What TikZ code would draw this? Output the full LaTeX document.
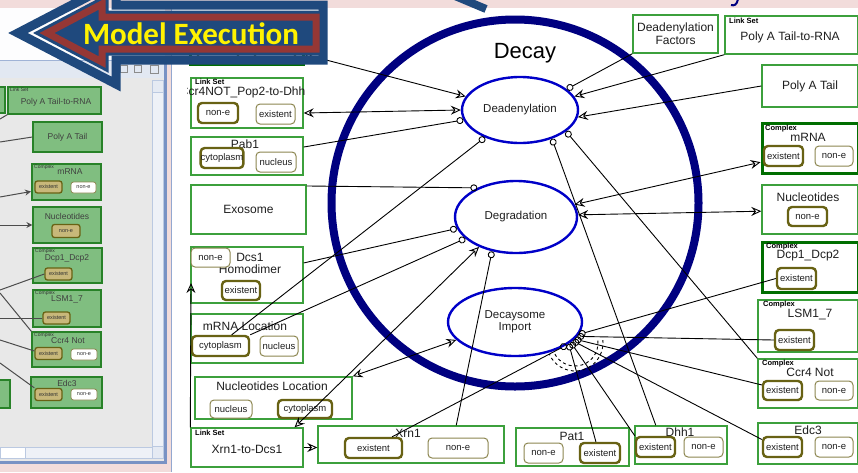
\documentclass[tikz,border=0pt]{standalone}
\usepackage{fontspec}
\setmainfont{Liberation Sans}
\newfontfamily\calfont{Carlito}
\usetikzlibrary{shapes.geometric,arrows.meta}

\newlength{\du}
\setlength{\du}{1pt}

\definecolor{slidepink}{RGB}{242,220,219}
\definecolor{arrowblue}{RGB}{31,73,125}
\definecolor{arrowred}{RGB}{149,55,53}
\definecolor{ringnavy}{RGB}{0,0,128}
\definecolor{ellblue}{RGB}{0,0,200}
\definecolor{boxgreen}{RGB}{60,160,60}
\definecolor{boxdark}{RGB}{0,110,0}
\definecolor{pillolive}{RGB}{104,98,20}
\definecolor{pillpale}{RGB}{140,134,80}
\definecolor{txtgray}{RGB}{30,30,30}
\definecolor{panelgray}{RGB}{232,232,232}
\definecolor{panelgreen}{RGB}{128,190,128}
\definecolor{paneldark}{RGB}{40,130,40}
\definecolor{paneltan}{RGB}{200,184,122}
\definecolor{panelbar}{RGB}{226,232,242}
\definecolor{panelblue}{RGB}{120,146,196}

\tikzset{
  opn/.tip={Stealth[open,length=10pt,width=9pt,inset=3.5pt]},
  knob/.tip={Circle[open,length=7pt]},
  mbox/.style={draw=boxgreen, line width=1.4\du, fill=white, inner sep=0pt},
  cbox/.style={mbox, draw=boxdark, line width=3\du},
  ttl/.style={inner sep=0pt, text=txtgray, align=center, font=\fontsize{12}{14}\selectfont},
  tag/.style={inner sep=0pt, anchor=west, font=\fontsize{7.5}{8}\selectfont\bfseries},
  onpill/.style={draw=pillolive, line width=2.4\du, rounded corners=4\du, fill=white, inner sep=0pt, text=txtgray, font=\fontsize{9.5}{11}\selectfont},
  offpill/.style={onpill, draw=pillpale, line width=1\du},
  proc/.style={ellipse, draw=ellblue, line width=2.4\du, fill=white, inner sep=0pt, text=txtgray, align=center, font=\fontsize{11.5}{12}\selectfont},
  link/.style={draw=black, line width=0.9\du},
  pbox/.style={draw=paneldark, line width=1.2\du, fill=panelgreen, inner sep=0pt},
  pttl/.style={inner sep=0pt, text=black!75, font=\fontsize{8.5}{10}\selectfont},
  ptag/.style={inner sep=0pt, anchor=west, text=black!80, font=\fontsize{5}{6}\selectfont},
  ppill/.style={draw=pillolive, line width=1.3\du, rounded corners=2.5\du, fill=paneltan, inner sep=0pt, text=black!80, font=\fontsize{5.5}{6}\selectfont},
  pwpill/.style={ppill, fill=white, draw=pillpale, line width=0.8\du},
  plink/.style={draw=black!70, line width=1\du},
}

\begin{document}
\begin{tikzpicture}
\pgftransformyscale{-1.000000}
\useasboundingbox (0\du,0\du) rectangle (858\du,472\du);
% slide, left window and canvas
\fill[slidepink] (0\du,0\du) rectangle (858\du,472\du);
\fill[panelgray] (0\du,8\du) rectangle (165\du,462\du);
\fill[white!92!panelbar] (0\du,8\du) rectangle (165\du,60\du);
\fill[panelbar] (0\du,60\du) rectangle (165\du,78\du);
\draw[panelblue!70, line width=1\du] (0\du,60\du) -- (165\du,60\du);
\draw[black!45, line width=0.8\du] (120\du,65\du) rectangle (127\du,72\du);
\draw[black!45, line width=0.8\du] (134\du,65\du) rectangle (141\du,72\du);
\draw[black!45, line width=0.8\du] (150\du,65\du) rectangle (158\du,73\du);
\filldraw[fill=panelbar!60, draw=panelblue!50, line width=0.8\du] (152\du,80\du) rectangle (163\du,458\du);
\filldraw[fill=panelbar!90, draw=panelblue!50, line width=0.8\du] (152\du,80\du) rectangle (163\du,92\du);
\filldraw[fill=panelbar!90, draw=panelblue!50, line width=0.8\du] (152\du,446\du) rectangle (163\du,458\du);
\filldraw[fill=panelbar!60, draw=panelblue!50, line width=0.8\du] (0\du,447\du) rectangle (152\du,458\du);
\filldraw[fill=white, draw=panelblue!50, line width=0.8\du] (0\du,447\du) rectangle (25\du,458\du);
\draw[panelblue, line width=3\du] (165\du,60\du) -- (165\du,462\du) -- (0\du,462\du);
\fill[white] (171\du,8\du) rectangle (858\du,472\du);
\draw[panelblue!80, line width=1\du] (171\du,8\du) -- (171\du,472\du);
\draw[arrowblue, line width=8\du] (455\du,-4\du) -- (486\du,9\du);
\draw[ringnavy, line width=2\du] (738\du,-1\du) .. controls (737\du,5\du) and (734\du,6\du) .. (731\du,5\du);

% left window contents
\node[pbox, minimum width=14\du, minimum height=26\du] (lpA) at (-2\du,100\du) {};
\node[pbox, minimum width=93\du, minimum height=27\du] (lpB) at (54.5\du,100.5\du) {};
\node[ptag] (lpBL) at (10\du,90\du) {Link Set};
\node[pttl] (lpBT) at (56\du,102\du) {Poly A Tail-to-RNA};
\node[pbox, pttl, minimum width=69\du, minimum height=30\du] (lpC) at (67.5\du,137\du) {Poly A Tail};
\node[pbox, line width=2\du, minimum width=69\du, minimum height=36\du] (lpD) at (66.5\du,182\du) {};
\node[ptag] (lpDL) at (34\du,167\du) {Complex};
\node[pttl] (lpDT) at (70\du,172\du) {mRNA};
\node[ppill, minimum width=27\du, minimum height=12\du] (lpDA) at (48.5\du,187\du) {existent};
\node[pwpill, minimum width=25\du, minimum height=11\du] (lpDB) at (83.5\du,187.5\du) {non-e};
\node[pbox, minimum width=68\du, minimum height=36\du] (lpE) at (67\du,225\du) {};
\node[pttl] (lpET) at (67\du,216\du) {Nucleotides};
\node[ppill, minimum width=28\du, minimum height=13\du] (lpEA) at (66\du,231\du) {non-e};
\node[pbox, minimum width=69\du, minimum height=35\du] (lpF) at (67.5\du,265.5\du) {};
\node[ptag] (lpFL) at (35\du,251\du) {Complex};
\node[pttl] (lpFT) at (67\du,258\du) {Dcp1\_Dcp2};
\node[ppill, minimum width=27\du, minimum height=12\du] (lpFA) at (58.5\du,274\du) {existent};
\node[pbox, minimum width=68\du, minimum height=37\du] (lpG) at (67\du,308.5\du) {};
\node[ptag] (lpGL) at (35\du,293\du) {Complex};
\node[pttl] (lpGT) at (67\du,299\du) {LSM1\_7};
\node[ppill, minimum width=27\du, minimum height=12\du] (lpGA) at (56.5\du,318\du) {existent};
\node[pbox, minimum width=69\du, minimum height=35\du] (lpH) at (66.5\du,349.5\du) {};
\node[ptag] (lpHL) at (34\du,335\du) {Complex};
\node[pttl] (lpHT) at (68\du,341\du) {Ccr4 Not};
\node[ppill, minimum width=27\du, minimum height=12\du] (lpHA) at (48.5\du,353.5\du) {existent};
\node[pwpill, minimum width=26\du, minimum height=11\du] (lpHB) at (84\du,354.5\du) {non-e};
\node[pbox, minimum width=71\du, minimum height=31\du] (lpI) at (66.5\du,392.5\du) {};
\node[pttl] (lpIT) at (67\du,383\du) {Edc3};
\node[ppill, minimum width=27\du, minimum height=12\du] (lpIA) at (48.5\du,394.5\du) {existent};
\node[pwpill, minimum width=26\du, minimum height=11\du] (lpIB) at (84\du,394.5\du) {non-e};
\node[pbox, minimum width=16\du, minimum height=28\du] (lpJ) at (2\du,394\du) {};
\coordinate (pinA) at (0\du,119\du);
\coordinate (pinB) at (0\du,142\du);
\coordinate (pinC) at (0\du,197\du);
\coordinate (pinD) at (0\du,225\du);
\coordinate (pinE) at (0\du,290\du);
\coordinate (pinF) at (0\du,293\du);
\coordinate (pinG) at (0\du,318\du);
\coordinate (pinH) at (0\du,340\du);
\coordinate (pinI) at (0\du,363\du);
\draw[plink] (pinA) -- (lpB.south west);
\draw[plink] (pinB) -- (lpC.west);
\draw[plink, -{Stealth[open,length=6pt,width=6pt,inset=2pt]}] (pinC) -- (lpD.195);
\draw[plink, -{Stealth[open,length=6pt,width=6pt,inset=2pt]}] (pinD) -- (lpE.west);
\draw[plink] (pinE) -- (lpFA.west);
\draw[plink] (pinF) -- (lpH.north west);
\draw[plink] (pinG) -- (lpGA.west);
\draw[plink] (pinH) -- (lpHA.170);
\draw[plink] (pinI) -- (lpIA.north west);

% decay compartment
\node[circle, draw=ringnavy, line width=8\du, minimum size=367\du, inner sep=0pt] (decay) at (515\du,203\du) {};
\node[inner sep=0pt, font=\fontsize{22}{24}\selectfont] (decayT) at (525\du,53\du) {Decay};

% boxes on the left of the canvas
\node[cbox, minimum width=113\du, minimum height=44\du] (topbox) at (246.5\du,42\du) {};
\node[onpill, minimum width=40\du, minimum height=20\du] (topboxA) at (218\du,50\du) {};
\node[onpill, minimum width=40\du, minimum height=20\du] (topboxB) at (275\du,50\du) {};

\node[mbox, minimum width=112\du, minimum height=50\du] (ccrlink) at (247\du,103\du) {};
\begin{scope}
\clip (187\du,70\du) rectangle (305\du,100\du);
\node[ttl] (ccrlinkT) at (246\du,92\du) {Ccr4NOT\_Pop2-to-Dhh1};
\end{scope}
\node[tag] (ccrlinkL) at (195\du,82\du) {Link Set};
\node[onpill, minimum width=40\du, minimum height=20\du] (ccrlinkA) at (218\du,113\du) {non-e};
\node[offpill, minimum width=39\du, minimum height=20\du] (ccrlinkB) at (275.5\du,114\du) {existent};

\node[mbox, minimum width=112\du, minimum height=38\du] (pab) at (247\du,156\du) {};
\node[ttl] (pabT) at (245\du,144\du) {Pab1};
\node[onpill, minimum width=40\du, minimum height=20\du] (pabA) at (222\du,158\du) {cytoplasm};
\node[offpill, minimum width=40\du, minimum height=20\du] (pabB) at (276\du,162\du) {nucleus};

\node[mbox, ttl, minimum width=115\du, minimum height=49\du] (exo) at (248.5\du,209.5\du) {Exosome};

\node[mbox, minimum width=112\du, minimum height=56\du] (dcs) at (247\du,275\du) {};
\node[ttl, font=\fontsize{12}{12}\selectfont] (dcsT) at (250\du,263\du) {Dcs1\\Homodimer};
\node[offpill, minimum width=39\du, minimum height=19\du] (dcsA) at (210.5\du,257.5\du) {non-e};
\node[onpill, minimum width=38\du, minimum height=19\du] (dcsB) at (241\du,290.5\du) {existent};
\coordinate (dcsin) at (191\du,283\du);

\node[mbox, minimum width=112\du, minimum height=49\du] (mloc) at (247\du,338.5\du) {};
\node[ttl] (mlocT) at (245\du,326\du) {mRNA Location};
\node[onpill, minimum width=57\du, minimum height=20\du] (mlocA) at (220.5\du,346\du) {cytoplasm};
\node[offpill, minimum width=38\du, minimum height=20\du] (mlocB) at (279\du,346\du) {nucleus};

\node[mbox, minimum width=157\du, minimum height=42\du] (nloc) at (273.5\du,398\du) {};
\node[ttl] (nlocT) at (272\du,386\du) {Nucleotides Location};
\node[offpill, minimum width=42\du, minimum height=18\du] (nlocA) at (231\du,409\du) {nucleus};
\node[onpill, minimum width=54\du, minimum height=18\du] (nlocB) at (305\du,409\du) {cytoplasm};

\node[mbox, minimum width=112\du, minimum height=39\du] (xdlink) at (247\du,447.5\du) {};
\node[tag] (xdlinkL) at (195\du,433\du) {Link Set};
\node[ttl] (xdlinkT) at (247\du,449\du) {Xrn1-to-Dcs1};

% boxes along the bottom
\node[mbox, minimum width=186\du, minimum height=37\du] (xrn) at (411\du,444.5\du) {};
\node[ttl] (xrnT) at (408\du,433\du) {Xrn1};
\node[onpill, minimum width=57\du, minimum height=20\du] (xrnA) at (373.5\du,448\du) {existent};
\node[offpill, minimum width=60\du, minimum height=20\du] (xrnB) at (458\du,448\du) {non-e};

\node[mbox, minimum width=113\du, minimum height=38\du] (pat) at (572.5\du,447\du) {};
\node[ttl] (patT) at (572\du,436\du) {Pat1};
\node[offpill, minimum width=39\du, minimum height=20\du] (patA) at (543.5\du,453\du) {non-e};
\node[onpill, minimum width=40\du, minimum height=20\du] (patB) at (600\du,453\du) {existent};

\node[mbox, minimum width=92\du, minimum height=38\du] (dhh) at (681\du,445\du) {};
\node[ttl] (dhhT) at (680\du,432\du) {Dhh1};
\node[onpill, minimum width=39\du, minimum height=20\du] (dhhA) at (655.5\du,447\du) {existent};
\node[offpill, minimum width=39\du, minimum height=20\du] (dhhB) at (703.5\du,447\du) {non-e};

% boxes on the right
\node[mbox, minimum width=100\du, minimum height=41\du] (edc) at (808\du,443.5\du) {};
\node[ttl] (edcT) at (808\du,430\du) {Edc3};
\node[onpill, minimum width=39\du, minimum height=20\du] (edcA) at (782.5\du,447\du) {existent};
\node[offpill, minimum width=38\du, minimum height=20\du] (edcB) at (834\du,447\du) {non-e};

\node[mbox, minimum width=100\du, minimum height=49\du] (ccr) at (808\du,383.5\du) {};
\node[tag] (ccrL) at (762\du,364\du) {Complex};
\node[ttl] (ccrT) at (810\du,372\du) {Ccr4 Not};
\node[onpill, minimum width=39\du, minimum height=19\du] (ccrA) at (782.5\du,390.5\du) {existent};
\node[offpill, minimum width=38\du, minimum height=19\du] (ccrB) at (834\du,390.5\du) {non-e};

\node[mbox, minimum width=100\du, minimum height=52\du] (lsm) at (808\du,326\du) {};
\node[tag] (lsmL) at (763\du,305\du) {Complex};
\node[ttl] (lsmT) at (810\du,314\du) {LSM1\_7};
\node[onpill, minimum width=39\du, minimum height=20\du] (lsmA) at (794.5\du,340\du) {existent};

\node[cbox, minimum width=96\du, minimum height=50\du] (dcp) at (810\du,267\du) {};
\node[tag] (dcpL) at (766\du,247\du) {Complex};
\node[ttl] (dcpT) at (808\du,256\du) {Dcp1\_Dcp2};
\node[onpill, minimum width=39\du, minimum height=21\du] (dcpA) at (796.5\du,278.5\du) {existent};

\node[mbox, minimum width=96\du, minimum height=49\du] (nuc) at (810\du,209.5\du) {};
\node[ttl] (nucT) at (808\du,197\du) {Nucleotides};
\node[onpill, minimum width=39\du, minimum height=19\du] (nucA) at (807.5\du,216.5\du) {non-e};

\node[cbox, minimum width=96\du, minimum height=50\du] (mrna) at (810\du,148\du) {};
\node[tag] (mrnaL) at (765\du,129\du) {Complex};
\node[ttl] (mrnaT) at (808\du,137\du) {mRNA};
\node[onpill, minimum width=39\du, minimum height=20\du] (mrnaA) at (783.5\du,156\du) {existent};
\node[offpill, minimum width=38\du, minimum height=20\du] (mrnaB) at (834\du,156\du) {non-e};

\node[mbox, ttl, minimum width=96\du, minimum height=42\du] (ptail) at (810\du,86\du) {Poly A Tail};

\node[mbox, minimum width=133\du, minimum height=38\du] (palink) at (791.5\du,35\du) {};
\node[tag] (palinkL) at (729\du,21\du) {Link Set};
\node[ttl] (palinkT) at (790\du,37\du) {Poly A Tail-to-RNA};

\node[mbox, ttl, font=\fontsize{12}{13}\selectfont, minimum width=85\du, minimum height=38\du] (dfac) at (675.5\du,34\du) {Deadenylation\\Factors};

% processes
\node[proc, minimum width=116\du, minimum height=66\du] (dead) at (520\du,110\du) {Deadenylation};
\node[proc, minimum width=122\du, minimum height=72\du] (degr) at (516\du,217\du) {Degradation};
\node[proc, minimum width=134\du, minimum height=68\du] (dimp) at (515\du,322\du) {Decaysome\\Import};

% links
\draw[link, opn-opn] (topbox.-12) -- (dead.166);
\draw[link, opn-opn] (ccrlink.-10) -- (dead.180);
\draw[link, -knob] (pab.9) -- (dead.190);
\draw[link, -knob] (mlocA.45) -- (dead.218);
\draw[link, -knob] (exo.22) -- (degr.143);
\draw[link, -knob] (dcs.12) -- (degr.191);
\draw[link, -knob] (mlocA.north east) -- (degr.203);
\draw[link, opn-opn] (xdlink.23) -- (degr.219);
\draw[link, knob-] (degr.235) -- (xrn.23);
\draw[link, opn-opn] (nloc.north east) -- (dimp.197);
\draw[link, -opn] (xdlink.north west) -- (dcsin);
\draw[link, -opn] (xdlink.east) -- (xrn.west |- xdlink.east);
\draw[link, knob-] (dead.-42) -- (dhh.142);
\draw[link, knob-] (dead.-25) -- (ccr.north west);
\draw[link, knob-] (dead.24) -- (dfac.south west);
\draw[link, opn-] (dead.14) -- (palink.south west);
\draw[link, opn-] (dead.-7) -- (ptail.west);
\draw[link, opn-opn] (degr.12) -- (mrna.196);
\draw[link, opn-opn] (degr.2) -- (nuc.182);
\foreach \pill/\ang in {xrnA.31/-24, patB.110/-22, dhhA.north west/-20, edcA.160/-18, ccrA.165/-16, lsmA.west/-13, dcpA.west/-11}
  \draw[link, knob-] (dimp.\ang) -- (\pill);
\coordinate (hub) at (575\du,343\du);
\draw[link, dashed] (hub) ++(-6:28\du) arc[start angle=-6, end angle=157, radius=28\du];
\draw[link, dashed] (hub) ++(-6:23\du) arc[start angle=-6, end angle=157, radius=23\du];

% model execution banner
\draw[arrowblue, line width=9\du, line join=miter] (18\du,33\du) -- (116\du,-18\du) -- (116\du,5\du) -- (323\du,5\du) -- (323\du,60\du) -- (116\du,60\du) -- (116\du,84\du) -- cycle;
\draw[arrowblue, fill=arrowblue, line width=13\du, line join=miter] (47\du,33\du) -- (102\du,4\du) -- (102\du,17\du) -- (316\du,17\du) -- (316\du,49\du) -- (102\du,49\du) -- (102\du,62\du) -- cycle;
\draw[arrowred, line width=7\du, line join=miter] (47\du,33\du) -- (102\du,4\du) -- (102\du,17\du) -- (316\du,17\du) -- (316\du,49\du) -- (102\du,49\du) -- (102\du,62\du) -- cycle;
\node[inner sep=0pt, text=yellow, font=\calfont\bfseries\fontsize{31}{33}\selectfont] (modelexec) at (191\du,34\du) {Model Execution};
\end{tikzpicture}
\end{document}
